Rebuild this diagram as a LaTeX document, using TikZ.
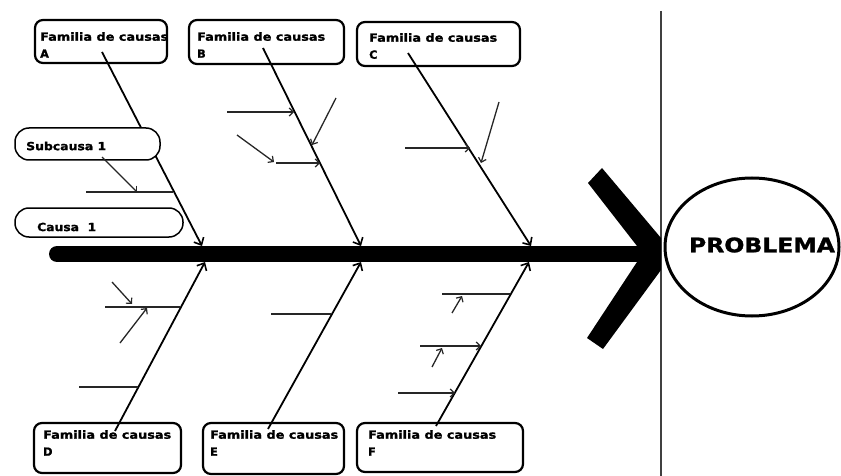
\documentclass[tikz,border=0pt]{standalone}
\usepackage{fontspec}
\usepackage{graphicx}
\setmainfont{DejaVu Sans}[BoldFeatures={FakeBold=1.3}]
\usetikzlibrary{arrows.meta,shapes.geometric}
\newcommand\fitw[2]{\resizebox{#1}{\height}{#2}}
\newcommand\famtxt{\fitw{128pt}{Familia de causas}}
\tikzset{
  fambox/.style={draw, line width=2.2pt, rounded corners=8pt, fill=white, inner sep=0pt},
  subbox/.style={draw, line width=1.5pt, rounded corners=14pt, fill=white, inner sep=0pt},
  lbl/.style={font=\fontsize{11.2}{17}\selectfont\bfseries, inner sep=0pt, anchor=north west, align=left},
  sublbl/.style={font=\fontsize{11.2}{11}\selectfont\bfseries, inner sep=0pt, anchor=west},
  bone/.style={line width=1.8pt, -{Straight Barb[length=6pt,width=11pt,line width=1.6pt]}},
  subl/.style={line width=1.3pt, black!85},
  suba/.style={subl, -{Straight Barb[length=4pt,width=8pt,line width=1.2pt]}},
}
\begin{document}
\begin{tikzpicture}[x=1pt,y=-1pt]
\useasboundingbox (0,0) rectangle (841,476);
% vertical separator
\coordinate (vT) at (661,11);
\coordinate (vB) at (661,476);
\draw[line width=1.6pt, black!75] (vT) -- (vB);
% spine
\coordinate (spL) at (57,254);
\coordinate (spR) at (642,254);
\draw[line width=16pt, line cap=round] (spL) -- (spR);
% big arrowhead
\fill (588,183) -- (602,168) -- (661,238) -- (661,270) -- (603,349) -- (587,338) -- (637,262) -- (637,246) -- cycle;
% problem
\node[draw, ellipse, line width=3pt, minimum width=174pt, minimum height=138pt] (prob) at (752,247) {};
\node[font=\fontsize{20}{20}\selectfont\bfseries, inner sep=0pt] (probt) at (762,245) {\fitw{146pt}{PROBLEMA}};

% family boxes
\node[fambox, minimum width=132pt, minimum height=43pt] (A) at (101,41.5) {};
\node[fambox, minimum width=155pt, minimum height=44pt] (B) at (266.5,42) {};
\node[fambox, minimum width=163pt, minimum height=44pt] (C) at (438.5,44) {};
\node[fambox, minimum width=147pt, minimum height=50pt] (D) at (107.5,448) {};
\node[fambox, minimum width=141pt, minimum height=51pt] (E) at (273.5,448.5) {};
\node[fambox, minimum width=166pt, minimum height=49pt] (F) at (440,447.5) {};
\node[lbl] (tA) at (40,32) {\famtxt\\A};
\node[lbl] (tB) at (197,32) {\famtxt\\B};
\node[lbl] (tC) at (369,33) {\famtxt\\C};
\node[lbl] (tD) at (43,430) {\famtxt\\D};
\node[lbl] (tE) at (210,430) {\famtxt\\E};
\node[lbl] (tF) at (368,430) {\famtxt\\F};

% bone coordinates
\coordinate (a0) at (102,52);   \coordinate (a1) at (202,246);
\coordinate (b0) at (263,48);   \coordinate (b1) at (361,246);
\coordinate (c0) at (408,53);   \coordinate (c1) at (531,246);
\coordinate (d0) at (115,431);  \coordinate (d1) at (205,262);
\coordinate (e0) at (268,429);  \coordinate (e1) at (361,262);
\coordinate (f0) at (436,426);  \coordinate (f1) at (529,262);

% main bones
\draw[bone] (a0) -- (a1);
\draw[bone] (b0) -- (b1);
\draw[bone] (c0) -- (c1);
\draw[bone] (d0) -- (d1);
\draw[bone] (e0) -- (e1);
\draw[bone] (f0) -- (f1);

% cause boxes (over bone A)
\node[subbox, minimum width=145pt, minimum height=32pt] (sc) at (87.5,144) {};
\node[sublbl] (sct) at (26,146) {\fitw{80pt}{Subcausa 1}};
\node[subbox, minimum width=168pt, minimum height=29pt] (ca) at (99,222.5) {};
\node[sublbl] (cat) at (37,227) {\fitw{59pt}{Causa\ \ 1}};

% sub causes A
\coordinate (a2) at (86,192); \coordinate (a3) at (173,192);
\draw[subl] (a2) -- (a3);
\coordinate (a4) at (102,157); \coordinate (a5) at (137,192);
\draw[suba] (a4) -- (a5);

% sub causes B
\coordinate (b2) at (227,112); \coordinate (b3) at (294,112);
\draw[suba] (b2) -- (b3);
\coordinate (b4) at (237,135); \coordinate (b5) at (274,162);
\draw[suba] (b4) -- (b5);
\coordinate (b6) at (276,163); \coordinate (b7) at (320,163);
\draw[suba] (b6) -- (b7);
\coordinate (b8) at (336,98); \coordinate (b9) at (312,145);
\draw[suba] (b8) -- (b9);

% sub causes C
\coordinate (c2) at (405,148); \coordinate (c3) at (470,148);
\draw[suba] (c2) -- (c3);
\coordinate (c4) at (499,102); \coordinate (c5) at (481,163);
\draw[suba] (c4) -- (c5);

% sub causes D
\coordinate (d2) at (105,307); \coordinate (d3) at (180,307);
\draw[subl] (d2) -- (d3);
\coordinate (d4) at (112,282); \coordinate (d5) at (132,304);
\draw[suba] (d4) -- (d5);
\coordinate (d6) at (120,343); \coordinate (d7) at (147,308);
\draw[suba] (d6) -- (d7);
\coordinate (d8) at (79,387); \coordinate (d9) at (138,387);
\draw[subl] (d8) -- (d9);

% sub causes E
\coordinate (e2) at (271,314); \coordinate (e3) at (331,314);
\draw[subl] (e2) -- (e3);

% sub causes F
\coordinate (f2) at (442,294); \coordinate (f3) at (510,294);
\draw[subl] (f2) -- (f3);
\coordinate (f4) at (452,313); \coordinate (f5) at (462,296);
\draw[suba] (f4) -- (f5);
\coordinate (f6) at (420,346); \coordinate (f7) at (481,346);
\draw[suba] (f6) -- (f7);
\coordinate (f8) at (432,367); \coordinate (f9) at (442,348);
\draw[suba] (f8) -- (f9);
\coordinate (f10) at (398,393); \coordinate (f11) at (455,393);
\draw[suba] (f10) -- (f11);
\end{tikzpicture}
\end{document}
